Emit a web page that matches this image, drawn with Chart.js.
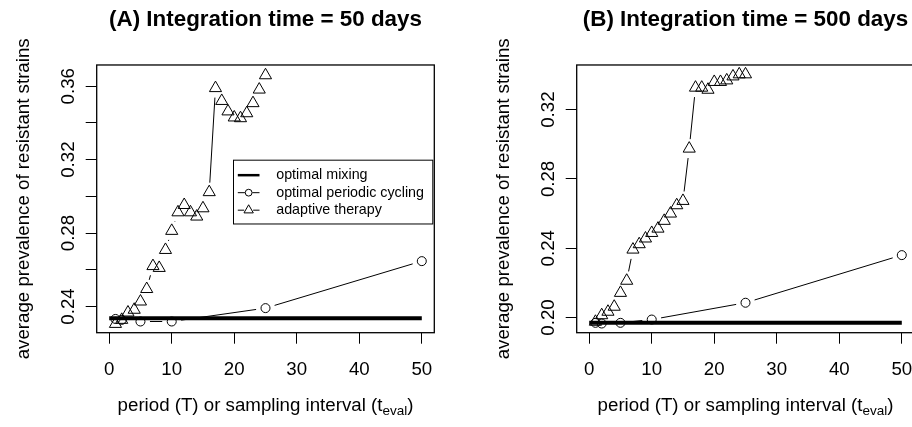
<!DOCTYPE html>
<html>
<head>
<meta charset="utf-8">
<script src="https://cdn.jsdelivr.net/npm/chart.js@4.4.1/dist/chart.umd.min.js"></script>
<style>
  html, body { margin: 0; padding: 0; background: #fff; }
  body { width: 912px; height: 427px; overflow: hidden; position: relative; }
  .panel { position: absolute; top: 0; width: 480px; height: 427px; }
  #panelA { left: 0; }
  #panelB { left: 480px; }
</style>
</head>
<body>
<div class="panel" id="panelA"><canvas id="chartA" width="480" height="427"></canvas></div>
<div class="panel" id="panelB"><canvas id="chartB" width="480" height="427"></canvas></div>
<script>
/* =========================
   Data
========================= */
const periods = [1, 2, 3, 4, 5, 6, 7, 8, 9, 10, 11, 12, 13, 14, 15, 16, 17, 18, 19, 20, 21, 22, 23, 24, 25];
const cyclingPeriods = [1, 2, 5, 10, 25, 50];
const mixingPeriods = [0, 50];

// (A) integration time = 50 days
const adaptiveA = [0.2305, 0.2327, 0.2367, 0.2382, 0.2427, 0.2495, 0.2620, 0.2610, 0.2708, 0.2812,
                   0.2913, 0.2953, 0.2913, 0.2890, 0.2935, 0.3023, 0.3590, 0.3520, 0.3463, 0.3430,
                   0.3426, 0.3453, 0.3508, 0.3582, 0.3660];
const cyclingA = [0.2332, 0.2327, 0.2318, 0.2318, 0.2391, 0.2647];
const mixingA = [0.2336, 0.2336];

// (B) integration time = 500 days
const adaptiveB = [0.1975, 0.2013, 0.2033, 0.2062, 0.2142, 0.2212, 0.2392, 0.2423, 0.2456, 0.2488,
                   0.2513, 0.2558, 0.2600, 0.2648, 0.2673, 0.2975, 0.3327, 0.3327, 0.3315, 0.3360,
                   0.3360, 0.3369, 0.3392, 0.3404, 0.3404];
const cyclingB = [0.1969, 0.1965, 0.1969, 0.1988, 0.2085, 0.2360];
const mixingB = [0.1969, 0.1969];

// ticks
const xTicks = [0, 10, 20, 30, 40, 50];
const yTicksA = [0.24, 0.26, 0.28, 0.30, 0.32, 0.34, 0.36];
const yLabelsA = [0.24, 0.28, 0.32, 0.36];
const yTicksB = [0.20, 0.22, 0.24, 0.26, 0.28, 0.30, 0.32, 0.34];
const yLabelsB = [0.20, 0.24, 0.28, 0.32];

const seriesNames = ["optimal mixing", "optimal periodic cycling", "adaptive therapy"];

/* =========================
   Plugins
========================= */
const FONT = '"Liberation Sans", Arial, Helvetica, sans-serif';
Chart.defaults.font.family = FONT;
Chart.defaults.color = "#000";

// box around the plot region (R box())
const frameBox = {
  id: "frameBox",
  afterDraw(chart) {
    const { ctx, chartArea: a } = chart;
    ctx.save();
    ctx.strokeStyle = "#000";
    ctx.lineWidth = 1.3;
    ctx.strokeRect(a.left, a.top, a.right - a.left, a.bottom - a.top);
    ctx.restore();
  }
};

// type="b" lines: segments with a gap round every point
const gapLines = {
  id: "gapLines",
  afterDatasetsDraw(chart) {
    const { ctx, chartArea: a } = chart;
    chart.data.datasets.forEach((ds, i) => {
      if (!ds.gapLine) return;
      const pts = chart.getDatasetMeta(i).data;
      const gap = ds.gapLine;
      ctx.save();
      ctx.beginPath();
      ctx.rect(a.left, a.top, a.right - a.left, a.bottom - a.top);
      ctx.clip();
      ctx.strokeStyle = "#000";
      ctx.lineWidth = 1;
      ctx.beginPath();
      for (let j = 1; j < pts.length; j++) {
        const p = pts[j - 1], q = pts[j];
        const dx = q.x - p.x, dy = q.y - p.y;
        const len = Math.hypot(dx, dy);
        if (len <= 2 * gap) continue;
        const ux = dx / len, uy = dy / len;
        ctx.moveTo(p.x + ux * gap, p.y + uy * gap);
        ctx.lineTo(q.x - ux * gap, q.y - uy * gap);
      }
      ctx.stroke();
      ctx.restore();
    });
  }
};

// x axis title with subscript
const xTitleSub = {
  id: "xTitleSub",
  afterDraw(chart, args, opts) {
    const { ctx, chartArea: a } = chart;
    const big = `18.7px ${FONT}`, small = `13.5px ${FONT}`;
    ctx.save();
    ctx.fillStyle = "#000";
    ctx.textAlign = "left";
    ctx.textBaseline = "alphabetic";
    ctx.font = big;
    const w1 = ctx.measureText(opts.main).width;
    const w3 = ctx.measureText(opts.tail).width;
    ctx.font = small;
    const w2 = ctx.measureText(opts.sub).width;
    let x = (a.left + a.right) / 2 - (w1 + w2 + w3) / 2;
    const y = a.bottom + opts.offset;
    ctx.font = big;
    ctx.fillText(opts.main, x, y);
    x += w1;
    ctx.font = small;
    ctx.fillText(opts.sub, x, y + 4.3);
    x += w2;
    ctx.font = big;
    ctx.fillText(opts.tail, x, y);
    ctx.restore();
  }
};

// legend inside panel A
const boxLegend = {
  id: "boxLegend",
  afterDraw(chart, args, opts) {
    if (!opts.show) return;
    const { ctx, chartArea: a } = chart;
    const right = a.right - 1.5, left = right - 199.3;
    const top = a.top + 95.2, bottom = a.top + 159;
    ctx.save();
    ctx.fillStyle = "#fff";
    ctx.fillRect(left, top, right - left, bottom - top);
    ctx.strokeStyle = "#000";
    ctx.lineWidth = 1;
    ctx.strokeRect(left, top, right - left, bottom - top);

    const rows = [top + 15, top + 32.5, top + 50];
    const x0 = left + 4.3, x1 = left + 26, xm = (x0 + x1) / 2;
    ctx.font = `14.3px ${FONT}`;
    ctx.textBaseline = "middle";
    ctx.textAlign = "left";
    seriesNames.forEach((name, k) => {
      const ds = chart.data.datasets.find(d => d.label === name);
      const y = rows[k];
      ctx.strokeStyle = "#000";
      ctx.beginPath();
      if (ds.pointRadius === 0) {
        ctx.lineWidth = 2.5;
        ctx.moveTo(x0, y); ctx.lineTo(x1, y);
      } else {
        const g = ds.pointStyle === "triangle" ? 4.5 : 3.7;
        ctx.lineWidth = 1;
        ctx.moveTo(x0, y); ctx.lineTo(xm - g, y);
        ctx.moveTo(xm + g, y); ctx.lineTo(x1, y);
      }
      ctx.stroke();
      if (ds.pointRadius !== 0) {
        ctx.fillStyle = "rgba(0,0,0,0)";
        ctx.lineWidth = 1;
        const r = ds.pointStyle === "triangle" ? 5.4 : 3.4;
        Chart.helpers.drawPoint(ctx, { pointStyle: ds.pointStyle, radius: r, borderWidth: 1, rotation: 0 }, xm, y);
      }
      ctx.fillStyle = "#000";
      ctx.fillText(name, left + 42.7, y);
    });
    ctx.restore();
  }
};

/* =========================
   Chart builder
========================= */
function near(list, v) {
  return list.some(t => Math.abs(t - v) < 1e-9);
}

function buildPanel(canvasId, title, adaptive, cycling, mixing, yTicks, yLabels, yMin, yMax, withLegend) {
  return new Chart(document.getElementById(canvasId), {
    type: "scatter",
    data: {
      datasets: [
        {
          label: seriesNames[0],
          data: mixingPeriods.map((p, i) => ({ x: p, y: mixing[i] })),
          showLine: true,
          borderColor: "#000",
          borderWidth: 4,
          pointRadius: 0,
        },
        {
          label: seriesNames[1],
          data: cyclingPeriods.map((p, i) => ({ x: p, y: cycling[i] })),
          showLine: false,
          gapLine: 9.5,
          pointStyle: "circle",
          pointRadius: 4.5,
          pointBorderWidth: 1,
          pointBorderColor: "#000",
          pointBackgroundColor: "rgba(0,0,0,0)",
        },
        {
          label: seriesNames[2],
          data: periods.map((p, i) => ({ x: p, y: adaptive[i] })),
          showLine: false,
          gapLine: 9.5,
          pointStyle: "triangle",
          pointRadius: 7,
          pointBorderWidth: 1,
          pointBorderColor: "#000",
          pointBackgroundColor: "rgba(0,0,0,0)",
        },
      ],
    },
    options: {
      responsive: false,
      animation: false,
      events: [],
      layout: { padding: { left: 0, top: 0, right: 45.7, bottom: 0 } },
      plugins: {
        legend: { display: false },
        tooltip: { enabled: false },
        title: {
          display: true,
          text: title,
          fullSize: false,
          color: "#000",
          font: { size: 22.4, weight: "bold" },
          padding: { top: 6, bottom: 32.1 },
        },
        xTitleSub: { main: "period (T) or sampling interval (t", sub: "eval", tail: ")", offset: 78.3 },
        boxLegend: { show: withLegend },
      },
      scales: {
        x: {
          type: "linear",
          min: -2,
          max: 52,
          afterBuildTicks: s => { s.ticks = xTicks.map(v => ({ value: v })); },
          afterFit: s => { s.height = 94.3; },
          grid: { drawOnChartArea: false, drawTicks: true, tickLength: 11, color: "#000", lineWidth: 1 },
          border: { display: false },
          ticks: { font: { size: 18.7 }, color: "#000", padding: 14.6, maxRotation: 0 },
        },
        y: {
          type: "linear",
          min: yMin,
          max: yMax,
          afterBuildTicks: s => { s.ticks = yTicks.map(v => ({ value: v })); },
          afterFit: s => { s.width = 96.7; },
          grid: { drawOnChartArea: false, drawTicks: true, tickLength: 11, color: "#000", lineWidth: 1 },
          border: { display: false },
          ticks: {
            font: { size: 18.7 },
            color: "#000",
            minRotation: 90,
            maxRotation: 90,
            crossAlign: "center",
            padding: -1,
            callback: v => (near(yLabels, v) ? v.toFixed(2) : ""),
          },
          title: {
            display: true,
            text: "average prevalence of resistant strains",
            color: "#000",
            font: { size: 18.7 },
            padding: { top: 12.6, bottom: 0 },
          },
        },
      },
    },
    plugins: [gapLines, frameBox, xTitleSub, boxLegend],
  });
}

buildPanel("chartA", "(A) Integration time = 50 days", adaptiveA, cyclingA, mixingA,
  yTicksA, yLabelsA, 0.2257, 0.3716, true);
buildPanel("chartB", "(B) Integration time = 500 days", adaptiveB, cyclingB, mixingB,
  yTicksB, yLabelsB, 0.1912, 0.3458, false);
</script>
</body>
</html>
